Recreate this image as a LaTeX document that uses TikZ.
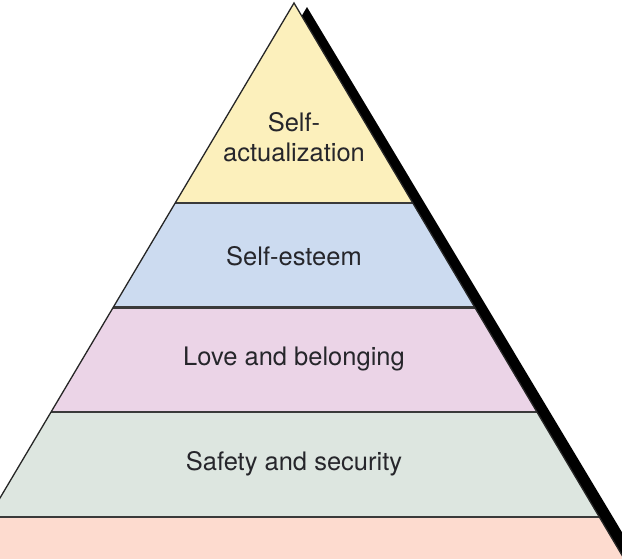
\documentclass[tikz,border=0pt]{standalone}
\usepackage{fontspec}
\setmainfont{TeX Gyre Heros}
\definecolor{lyellow}{HTML}{FCF0BC}
\definecolor{lblue}{HTML}{CCDBF0}
\definecolor{lpink}{HTML}{EBD4E7}
\definecolor{lgreen}{HTML}{DDE6E0}
\definecolor{lpeach}{HTML}{FDDBCF}
\definecolor{divider}{HTML}{3A3A3A}
\definecolor{txt}{HTML}{26262B}
\tikzset{
  layertext/.style={font=\fontsize{25.5}{30}\selectfont, text=txt, align=center, inner sep=0pt},
  divline/.style={draw=divider, line width=2.2pt},
  edgeline/.style={draw=black!85, line width=1.3pt, line join=miter}
}
\begin{document}
\begin{tikzpicture}[x=1pt,y=-1pt]
\useasboundingbox (0,0) rectangle (622,558);
\clip (0,0) rectangle (622,558);
\fill[white] (0,0) rectangle (622,558);
% shadow
\fill[black] (307,7) -- (-107,704) -- (725,704) -- cycle;
% layers
\begin{scope}
  \clip (294,3) -- (-120,700) -- (708,700) -- cycle;
  \fill[lyellow] (-200,0) rectangle (800,203);
  \fill[lblue] (-200,203) rectangle (800,307.5);
  \fill[lpink] (-200,307.5) rectangle (800,412);
  \fill[lgreen] (-200,412) rectangle (800,517);
  \fill[lpeach] (-200,517) rectangle (800,700);
  \coordinate (d1l) at (-200,203);   \coordinate (d1r) at (800,203);
  \coordinate (d2l) at (-200,307.5); \coordinate (d2r) at (800,307.5);
  \coordinate (d3l) at (-200,412);   \coordinate (d3r) at (800,412);
  \coordinate (d4l) at (-200,517);   \coordinate (d4r) at (800,517);
  \draw[divline] (d1l) -- (d1r);
  \draw[divline] (d2l) -- (d2r);
  \draw[divline] (d3l) -- (d3r);
  \draw[divline] (d4l) -- (d4r);
\end{scope}
% outline
\coordinate (apex) at (294,3);
\coordinate (bl) at (-120,700);
\coordinate (br) at (708,700);
\draw[edgeline] (bl) -- (apex) -- (br);
% labels
\node[layertext] (sa) at (294,137) {Self-\\actualization};
\node[layertext] (se) at (294,256) {Self-esteem};
\node[layertext] (lb) at (294,359) {Love and belonging};
\node[layertext] (ss) at (294,464) {Safety and security};
\end{tikzpicture}
\end{document}
